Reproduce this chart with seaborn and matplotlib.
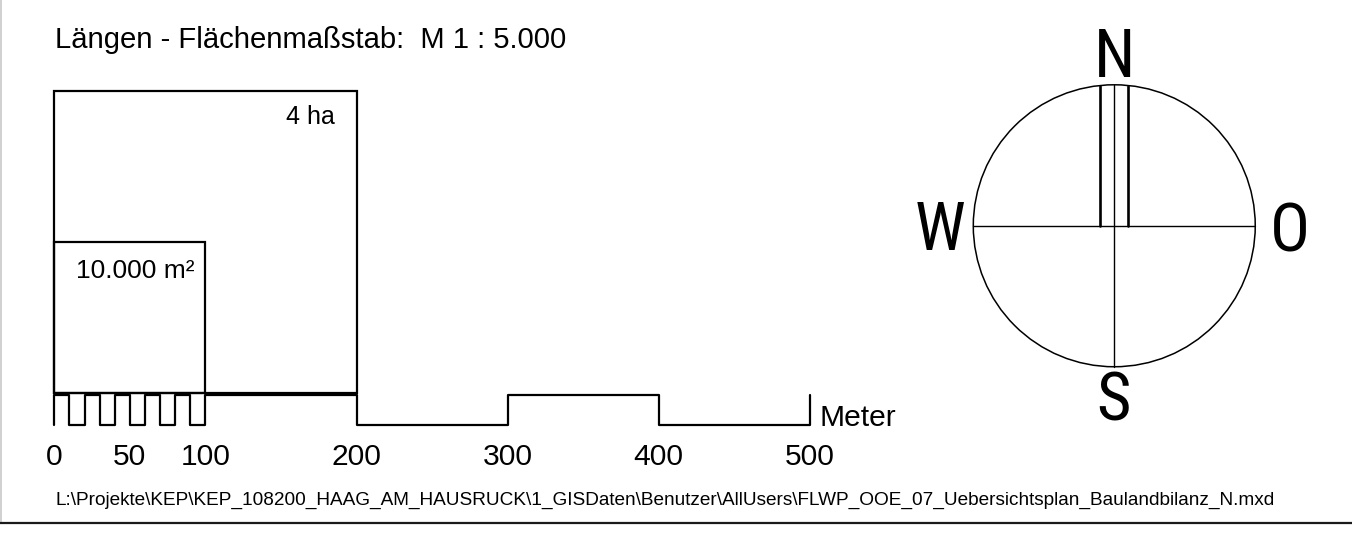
import numpy as np
import pandas as pd
import matplotlib
matplotlib.use('Agg')
import matplotlib.pyplot as plt
from matplotlib.patches import Rectangle, Circle
from matplotlib.lines import Line2D
import seaborn as sns

# scale bar data (meters)
bar_breaks = [0, 10, 20, 30, 40, 50, 60, 70, 80, 90, 100, 200, 300, 400, 500]
tick_values = [0, 50, 100, 200, 300, 400, 500]
tick_labels = ['0', '50', '100', '200', '300', '400', '500']
square_sides = [200, 100]
square_labels = ['4 ha', '10.000 m²']
compass_labels = ['N', 'W', 'O', 'S']
title_text = 'Längen - Flächenmaßstab:  M 1 : 5.000'
unit_text = 'Meter'
path_text = ('L:\\Projekte\\KEP\\KEP_108200_HAAG_AM_HAUSRUCK\\1_GISDaten\\Benutzer'
             '\\AllUsers\\FLWP_OOE_07_Uebersichtsplan_Baulandbilanz_N.mxd')

sns.set_theme(style='white')
plt.rcParams['font.family'] = ['Liberation Sans', 'DejaVu Sans']

fig = plt.figure(figsize=(13.52, 5.43), dpi=100)
ax = fig.add_axes([0, 0, 1, 1])
# 1 m = 1.511 px, origin at the top left of the scale bar
k = 1.511
ax.set_xlim(-54.3 / k, (1352 - 54.3) / k)
ax.set_ylim(-(543 - 395) / k, 395 / k)
ax.axis('off')

# alternating scale bar as one step line
bar_h = 20
xs, ys = [0], [-bar_h]
for i in range(len(bar_breaks) - 1):
    level = 0 if i % 2 == 0 else -bar_h
    xs += [bar_breaks[i], bar_breaks[i + 1]]
    ys += [level, level]
xs.append(bar_breaks[-1])
ys.append(0)
bar_df = pd.DataFrame({'x': xs, 'y': ys})
sns.lineplot(data=bar_df, x='x', y='y', sort=False, estimator=None,
             color='black', lw=1.6, ax=ax)

for v, lab in zip(tick_values, tick_labels):
    ax.text(v, -46.3, lab, ha='center', va='baseline', fontsize=21.6, color='black')
ax.text(506.5, -20.3, unit_text, ha='left', va='baseline', fontsize=21.6, color='black')

# area squares
label_style = {200: (186, 179.2, 18), 100: (93, 77.3, 19)}
for side, lab in zip(square_sides, square_labels):
    ax.add_patch(Rectangle((0, 1), side, side, fill=False, ec='black', lw=1.6))
    lx, ly, fs = label_style[side]
    ax.text(lx, ly, lab, ha='right', va='baseline', fontsize=fs, color='black')

ax.text(0.5, 229.6, title_text, ha='left', va='baseline', fontsize=21.1, color='black')
ax.text(0.5, -72.8, path_text, ha='left', va='baseline', fontsize=13.7, color='black')

# north arrow / compass
cx, cy, r = 701.5, 112.0, 93.3
ax.add_patch(Circle((cx, cy), r, fill=False, ec='black', lw=1.1))
ax.plot([cx - r, cx + r], [cy, cy], color='black', lw=1.0)
ax.plot([cx, cx], [cy - r, cy + r], color='black', lw=1.0)
off = 9.4
top = cy + np.sqrt(r ** 2 - off ** 2)
for dx in (-off, off):
    ax.plot([cx + dx, cx + dx], [cy, top], color='black', lw=1.9)

narrow = ['Liberation Sans Narrow', 'Roboto Condensed', 'Open Sans Condensed',
          'Liberation Sans', 'DejaVu Sans']
comp_pos = [(cx, 210.5), (586.2, 96.0), (817.8, 94.8), (700.9, -17.2)]
for lab, (tx, ty) in zip(compass_labels, comp_pos):
    ax.text(tx, ty, lab, ha='center', va='baseline', fontsize=48,
            family=narrow, color='black')

# frame lines
fig.add_artist(Line2D([1 / 1352, 1 / 1352], [1, 1 - 523 / 543], color='#c8c8c8', lw=1.2))
fig.add_artist(Line2D([0, 1], [1 - 523 / 543, 1 - 523 / 543], color='#1a1a1a', lw=1.6))

fig.savefig('out.png', dpi=100, facecolor='white')
